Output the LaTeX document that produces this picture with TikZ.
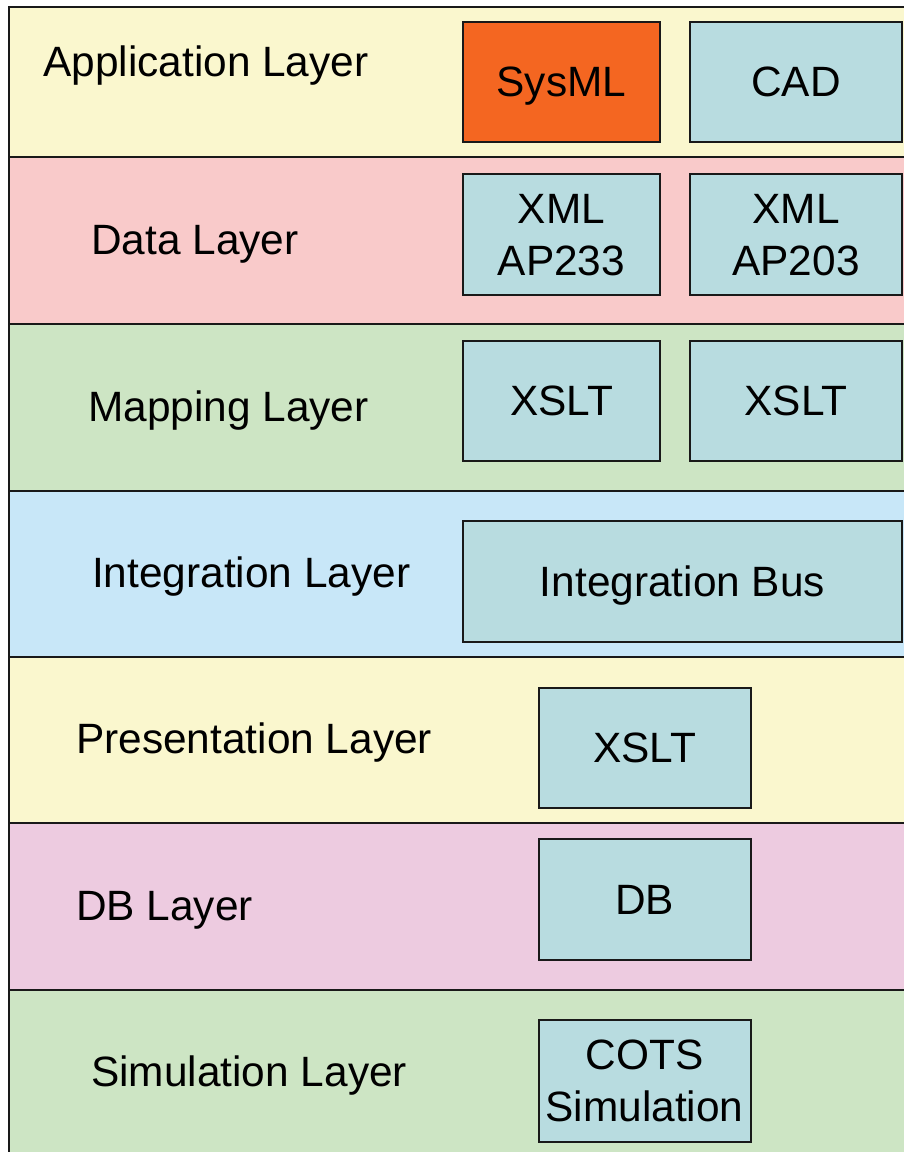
\documentclass[tikz,border=0pt]{standalone}
\usepackage{fontspec}
\setmainfont{Liberation Sans}
\usepackage{xcolor}
\usepackage{tikz}
\usetikzlibrary{positioning}
\definecolor{appyellow}{HTML}{FAF7CE}
\definecolor{datapink}{HTML}{F9CACA}
\definecolor{mapgreen}{HTML}{CDE5C4}
\definecolor{intblue}{HTML}{C8E7F8}
\definecolor{dblilac}{HTML}{EDCBE0}
\definecolor{boxteal}{HTML}{B8DCE0}
\definecolor{sysorange}{HTML}{F46621}

\begin{document}
\begin{tikzpicture}[
    x=1pt, y=-1pt,
    node distance=28pt, % outer sep adds the last 2pt
    every node/.style={font=\fontsize{42.4}{52}\selectfont},
    layer/.style={draw=black!90, line width=2pt},
    lbl/.style={inner sep=0pt, anchor=base west},
    box/.style={rectangle, draw=black!90, line width=2pt, fill=boxteal,
                minimum width=197pt, minimum height=120pt, inner sep=0pt,
                align=center, text depth=0pt},
    widebox/.style={box, minimum width=212pt}
]
\clip (0,0) rectangle (904,1152);

% Layers
\draw[layer, fill=appyellow] (9,7)   rectangle (920,157);
\draw[layer, fill=datapink]  (9,157) rectangle (920,324);
\draw[layer, fill=mapgreen]  (9,324) rectangle (920,491);
\draw[layer, fill=intblue]   (9,491) rectangle (920,657);
\draw[layer, fill=appyellow] (9,657) rectangle (920,823);
\draw[layer, fill=dblilac]   (9,823) rectangle (920,990);
\draw[layer, fill=mapgreen]  (9,990) rectangle (920,1170);

% Layer labels
\node[lbl] (applbl)  at (43,76)   {Application Layer};
\node[lbl] (datalbl) at (91,254)  {Data Layer};
\node[lbl] (maplbl)  at (88,421)  {Mapping Layer};
\node[lbl] (intlbl)  at (92,587)  {Integration Layer};
\node[lbl] (preslbl) at (76,753)  {Presentation Layer};
\node[lbl] (dblbl)   at (76,920)  {DB Layer};
\node[lbl] (simlbl)  at (91,1086) {Simulation Layer};

% Components
\node[box, fill=sysorange] (sysml) at (561.5,82) {SysML};
\node[widebox, right=of sysml] (cad) {CAD};
\node[box, minimum height=121pt] (ap233) at (561.5,234.5) {XML\\AP233};
\node[widebox, minimum height=121pt, right=of ap233] (ap203) {XML\\AP203};
\node[box] (mapxslt) at (561.5,401) {XSLT};
\node[widebox, right=of mapxslt] (mapxslt2) {XSLT};
\node[box, minimum width=439pt, minimum height=121pt] (bus) at (682.5,581.5) {Integration Bus};
\node[widebox] (presxslt) at (644.5,748) {XSLT};
\node[widebox, minimum height=121pt] (db) at (644.5,899.5) {DB};
\node[widebox, minimum height=122pt] (cots) at (644.5,1081) {COTS\\Simulation};

\end{tikzpicture}
\end{document}
